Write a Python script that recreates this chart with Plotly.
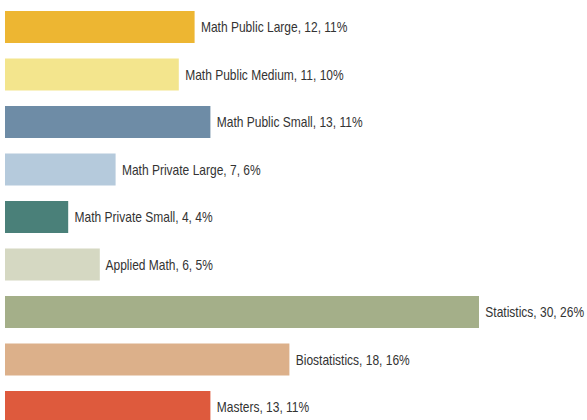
import plotly.graph_objects as go

categories = ["Math Public Large", "Math Public Medium", "Math Public Small",
              "Math Private Large", "Math Private Small", "Applied Math",
              "Statistics", "Biostatistics", "Masters"]
values = [12, 11, 13, 7, 4, 6, 30, 18, 13]
percents = ["11%", "10%", "11%", "6%", "4%", "5%", "26%", "16%", "11%"]
colors = ["#EDB632", "#F3E58D", "#6E8CA6", "#B5CADC", "#4A8079",
          "#D5D8C2", "#A4AF89", "#DCB08A", "#DE5A3D"]

labels = [f" {c}, {v}, {p}" for c, v, p in zip(categories, values, percents)]

fig = go.Figure(go.Bar(
    x=values, y=categories, orientation="h",
    marker=dict(color=colors, line=dict(width=0)),
    text=labels, textposition="outside", cliponaxis=False,
    constraintext="none",
    textfont=dict(family="Liberation Sans, Arial, sans-serif",
                  size=15, color="#333333"),
    hoverinfo="skip",
))

fig.update_layout(
    width=587, height=420,
    margin=dict(l=5, r=0, t=0, b=0),
    paper_bgcolor="white", plot_bgcolor="white",
    bargap=0.326, showlegend=False,
    xaxis=dict(range=[0, 582 / 15.8], visible=False, fixedrange=True),
    yaxis=dict(categoryorder="array", categoryarray=categories,
               range=[8.274, -0.568], visible=False, fixedrange=True),
)

post = """
document.body.style.margin = '0';
document.body.style.overflow = 'hidden';
var ts = document.querySelectorAll('text.bartext');
ts.forEach(function(t){
  var w = t.getComputedTextLength();
  var bb = t.getBBox();
  t.setAttribute('text-anchor', 'start');
  t.setAttribute('x', bb.x);
  t.setAttribute('textLength', w * 0.80);
  t.setAttribute('lengthAdjust', 'spacingAndGlyphs');
});
"""

fig.write_html("out.html", config={"displayModeBar": False}, post_script=post)
